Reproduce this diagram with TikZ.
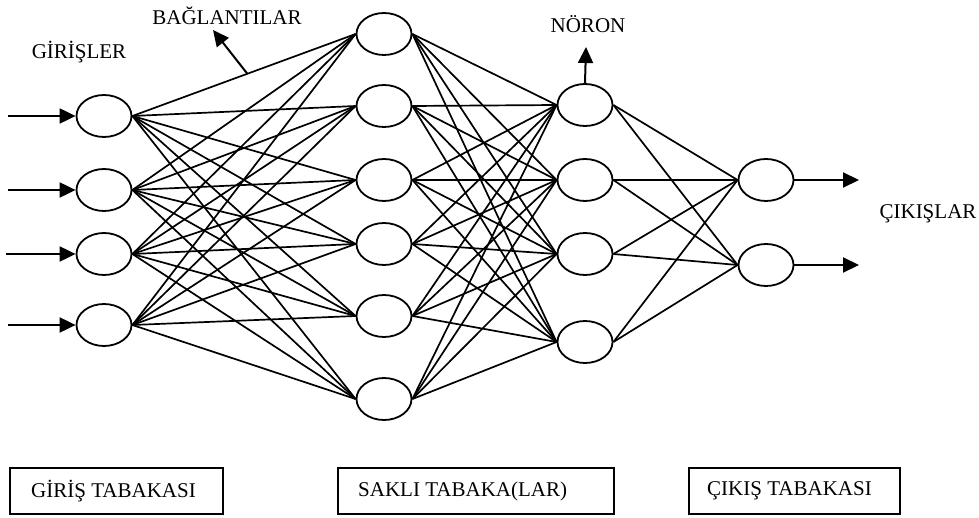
\documentclass[tikz,border=0pt]{standalone}
\usepackage{fontspec}
\setmainfont{Liberation Serif}
\usetikzlibrary{shapes.geometric,arrows.meta,calc}

\begin{document}
\begin{tikzpicture}[x=1pt,y=-1pt,
  every node/.style={font=\fontsize{21}{25}\selectfont},
  neuron/.style={draw,ellipse,line width=1.8pt,minimum width=55pt,minimum height=42pt,inner sep=0pt},
  link/.style={line width=1.7pt},
  flow/.style={line width=2pt,-{Triangle[length=16pt,width=15pt]}},
  layerbox/.style={draw,line width=1.9pt,minimum height=46pt,inner sep=0pt,align=left},
  tag/.style={inner sep=0pt}
]
\useasboundingbox (0,0) rectangle (979,518);

% input layer
\node[neuron] (i1) at (104,116) {};
\node[neuron] (i2) at (104,190) {};
\node[neuron] (i3) at (104,254) {};
\node[neuron] (i4) at (104,325) {};

% hidden layer
\node[neuron] (h1) at (384,34) {};
\node[neuron] (h2) at (384,106) {};
\node[neuron] (h3) at (384,180) {};
\node[neuron] (h4) at (384,244) {};
\node[neuron] (h5) at (384,316) {};
\node[neuron] (h6) at (384,399) {};

% second hidden layer
\node[neuron] (n1) at (585,105) {};
\node[neuron] (n2) at (585,180) {};
\node[neuron] (n3) at (585,254) {};
\node[neuron] (n4) at (585,342) {};

% output layer
\node[neuron] (o1) at (766,180) {};
\node[neuron] (o2) at (766,265) {};

% full connections between consecutive layers
\foreach \a in {1,...,4}
  \foreach \b in {1,...,6}
    \draw[link] (i\a.east) -- (h\b.west);
\foreach \a in {1,...,6}
  \foreach \b in {1,...,4}
    \draw[link] (h\a.east) -- (n\b.west);
\foreach \a in {1,...,4}
  \foreach \b in {1,2}
    \draw[link] (n\a.east) -- (o\b.west);

% inputs
\coordinate (a1) at (8,116);
\coordinate (a2) at (8,190);
\coordinate (a3) at (6,254);
\coordinate (a4) at (8,325);
\foreach \k in {1,...,4}
  \draw[flow] (a\k) -- (i\k.west);

% outputs
\coordinate (z1) at (859,180);
\coordinate (z2) at (859,265);
\draw[flow] (o1.east) -- (z1);
\draw[flow] (o2.east) -- (z2);

% labels
\node[tag] (girisler) at (79,52) {GİRİŞLER};
\node[tag] (baglanti) at (227,16) {BAĞLANTILAR};
\node[tag] (noron) at (588,24) {NÖRON};
\node[tag] (cikislar) at (928,214) {ÇIKIŞLAR};

\coordinate (bt) at (213,30);
\draw[flow] ($(i1.east)!0.515!(h1.west)$) -- (bt);
\coordinate (nt) at (586,47);
\draw[flow] (n1.north) -- (nt);

% layer captions
\node[layerbox,minimum width=213pt,anchor=north west] (b1) at (9,467) {};
\node[tag,anchor=west] (t1) at ($(b1.west)+(22,0)$) {GİRİŞ TABAKASI};
\node[layerbox,minimum width=276pt,anchor=north west] (b2) at (337,467) {};
\node[tag,anchor=west] (t2) at ($(b2.west)+(21,0)$) {SAKLI TABAKA(LAR)};
\node[layerbox,minimum width=211pt,anchor=north west] (b3) at (688,467) {};
\node[tag,anchor=west] (t3) at ($(b3.west)+(19,0)$) {ÇIKIŞ TABAKASI};
\end{tikzpicture}
\end{document}
